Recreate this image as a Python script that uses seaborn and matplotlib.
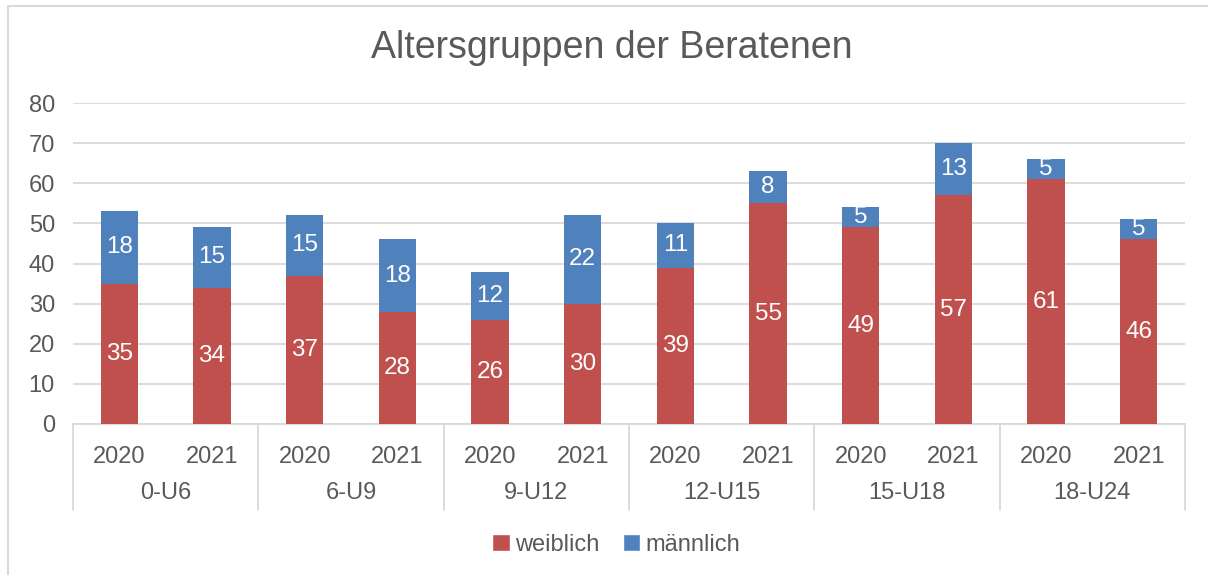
import matplotlib
matplotlib.use("Agg")
import matplotlib.pyplot as plt
import matplotlib.transforms as mtransforms
from matplotlib.patches import Rectangle, Patch
from matplotlib.lines import Line2D
import seaborn as sns
import pandas as pd

groups = ["0-U6", "6-U9", "9-U12", "12-U15", "15-U18", "18-U24"]
years = ["2020", "2021"]
weiblich = [35, 34, 37, 28, 26, 30, 39, 55, 49, 57, 61, 46]
maennlich = [18, 15, 15, 18, 12, 22, 11, 8, 5, 13, 5, 5]

RED = "#C0504D"
BLUE = "#4F81BD"
TXT = "#595959"
GRID = "#D9D9D9"

sns.set_theme(style="white")
plt.rcParams["font.family"] = ["Liberation Sans", "DejaVu Sans"]

keys = [f"{g}|{y}" for g in groups for y in years]
total = [w + m for w, m in zip(weiblich, maennlich)]
df = pd.DataFrame({"key": keys, "weiblich": weiblich, "maennlich": maennlich, "total": total})

fig = plt.figure(figsize=(12.08, 5.75), dpi=100)
ax = fig.add_axes([73/1208, 1-424/575, (1185-73)/1208, (424-103)/575])

sns.barplot(data=df, x="key", y="total", order=keys, color=BLUE, saturation=1,
            width=0.4, ax=ax, zorder=2, linewidth=0, edgecolor=BLUE)
sns.barplot(data=df, x="key", y="weiblich", order=keys, color=RED, saturation=1,
            width=0.4, ax=ax, zorder=3, linewidth=0, edgecolor=RED)

ax.set_ylim(0, 80)
ax.set_xlim(-0.5, len(keys) - 0.5)
ax.set_yticks(range(0, 81, 10))
ax.yaxis.grid(True, color=GRID, linewidth=1.3, zorder=0)
ax.set_axisbelow(True)
for s in ["top", "right", "left"]:
    ax.spines[s].set_visible(False)
ax.spines["bottom"].set_color(GRID)
ax.spines["bottom"].set_linewidth(1.3)
ax.set_xlabel("")
ax.set_ylabel("")
ax.tick_params(axis="y", length=0, pad=13, labelsize=17, labelcolor=TXT)
ax.tick_params(axis="x", length=0, pad=16, labelsize=17, labelcolor=TXT)
ax.set_xticks(range(len(keys)))
ax.set_xticklabels([y for g in groups for y in years])

# segment labels
for i, (w, m) in enumerate(zip(weiblich, maennlich)):
    ax.text(i, w / 2, str(w), ha="center", va="center", color="white", fontsize=17.5, zorder=5)
    ax.text(i, w + m / 2, str(m), ha="center", va="center", color="white", fontsize=17.5, zorder=5)

# group labels and separators
trans = mtransforms.blended_transform_factory(ax.transData, fig.transFigure)
for gi, g in enumerate(groups):
    ax.text(gi * 2 + 0.5, 1 - 493/575, g, transform=trans, ha="center", va="center",
            fontsize=17, color=TXT)
for k in range(len(groups) + 1):
    x = k * 2 - 0.5
    ax.add_line(Line2D([x, x], [1 - 424/575, 1 - 510/575], transform=trans,
                       color=GRID, linewidth=1.3, clip_on=False))

fig.text(612/1208, 1 - 48/575, "Altersgruppen der Beratenen", fontsize=27, color=TXT,
         ha="center", va="center")

handles = [Patch(facecolor=RED, label="weiblich"), Patch(facecolor=BLUE, label="männlich")]
fig.legend(handles=handles, loc="center", bbox_to_anchor=(616/1208, 1 - 545/575), ncol=2,
           frameon=False, fontsize=17, labelcolor=TXT, handlelength=0.75, handleheight=0.75,
           handletextpad=0.2, columnspacing=1.0)

fig.patches.append(Rectangle((8/1208, -0.1), 1.2, 1 - 6/575 + 0.1, transform=fig.transFigure,
                             fill=False, edgecolor=GRID, linewidth=1.5))

fig.savefig("out.png", dpi=100)
